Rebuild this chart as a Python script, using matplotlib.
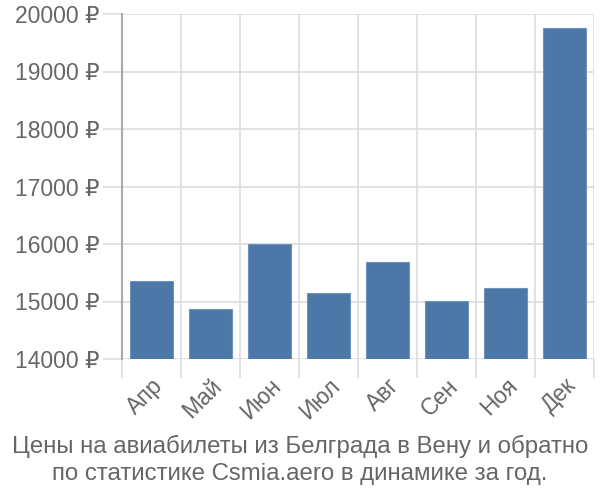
import matplotlib
matplotlib.use("Agg")
import matplotlib.pyplot as plt
import numpy as np

months = ["Апр", "Май", "Июн", "Июл", "Авг", "Сен", "Ноя", "Дек"]
prices = [15357, 14870, 16000, 15143, 15692, 15009, 15230, 19757]
yticks = [14000, 15000, 16000, 17000, 18000, 19000, 20000]
title = "Цены на авиабилеты из Белграда в Вену и обратно\nпо статистике Csmia.aero в динамике за год."

plt.rcParams['font.family'] = ['Liberation Sans', 'DejaVu Sans']
text_color = '#666666'
grid_color = '#dddddd'

fig = plt.figure(figsize=(6, 5), dpi=100)
ax = fig.add_axes([122/600, 1-359/500, (594-122)/600, (359-14)/500])

x = np.arange(len(months))
ax.bar(x, prices, width=0.72, color='#4c78a8', edgecolor='#6f93bd', linewidth=0.8, zorder=3)

ax.set_xlim(-0.5, len(months) - 0.5)
ax.set_ylim(14000, 20000)

ax.set_yticks(yticks)
ax.set_yticklabels([f"{v} ₽" for v in yticks], fontsize=16.5, color=text_color)
ax.tick_params(axis='y', length=14, width=1.2, color=grid_color, pad=2)

ax.set_xticks(x)
ax.set_xticklabels(months, rotation=45, ha='right', rotation_mode='anchor', fontsize=16.5, color=text_color)
ax.tick_params(axis='x', which='major', length=0, pad=11)
ax.set_xticks(np.arange(-0.5, len(months), 1), minor=True)
ax.tick_params(axis='x', which='minor', length=14, width=1.2, color=grid_color)

ax.grid(True, axis='y', color=grid_color, linewidth=1.2, zorder=0)
ax.grid(True, axis='x', which='minor', color=grid_color, linewidth=1.2, zorder=0)

for s in ['top', 'right', 'bottom']:
    ax.spines[s].set_visible(False)
ax.spines['left'].set_color('#aaaaaa')
ax.spines['left'].set_linewidth(1.5)
ax.spines['left'].set_bounds(14000, 20000)

fig.text(0.5, 1 - 460/500, title, ha='center', va='center', fontsize=17.3, color=text_color, linespacing=1.28)

fig.savefig("out.png", dpi=100)
